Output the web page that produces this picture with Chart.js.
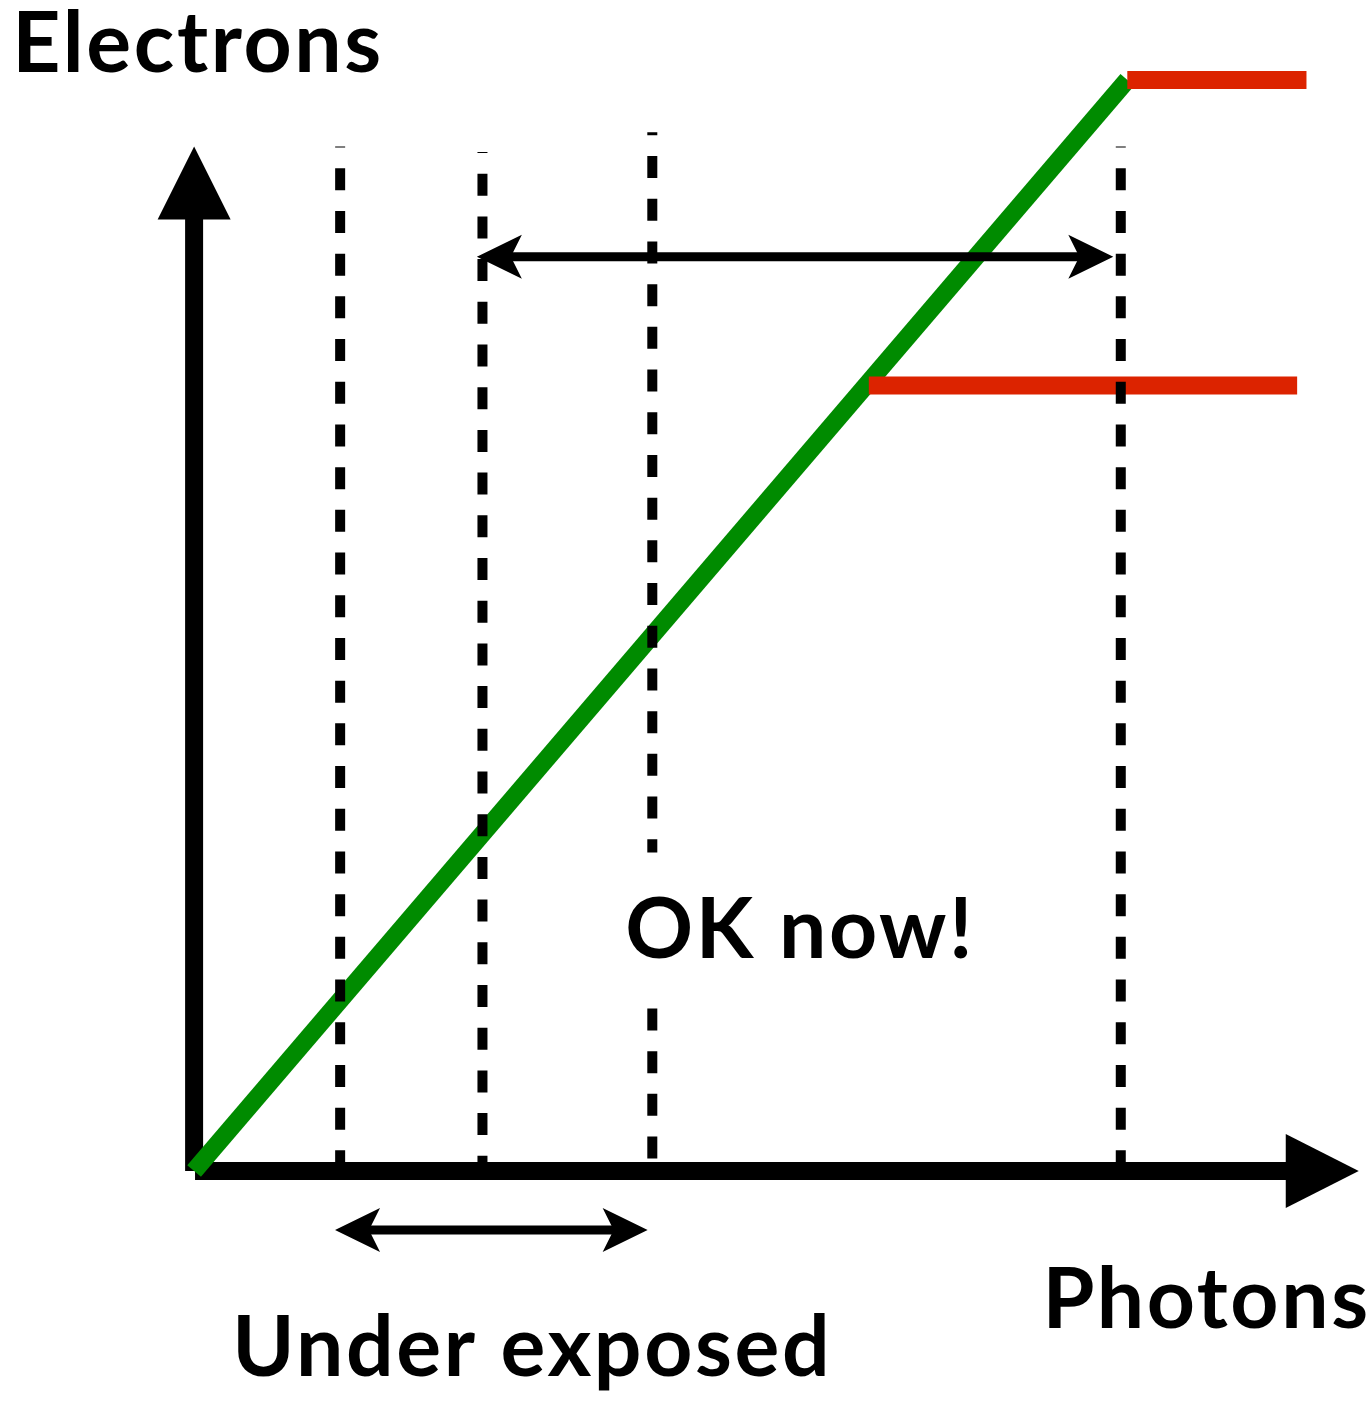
<!DOCTYPE html>
<html>
<head>
<meta charset="utf-8">
<script src="https://cdn.jsdelivr.net/npm/chart.js@4.4.0/dist/chart.umd.min.js"></script>
<style>
  html, body { margin: 0; padding: 0; background: #fff; }
  canvas { display: block; }
</style>
</head>
<body>
<canvas id="chart" width="1369" height="1402"></canvas>
<script>
// sensor response: photons in -> electrons out
const linearResponse = [{ x: 0, y: 0 }, { x: 10, y: 10 }];
const fullWell = [{ x: 10, y: 10 }, { x: 11.92, y: 10 }];
const earlyClip = [{ x: 7.23, y: 7.2 }, { x: 11.82, y: 7.2 }];

// exposure guides (photon counts), top of each guide, bottom of all
const guideX = [1.565, 3.09, 4.91, 9.93];
const guideTop = [9.39, 9.34, 9.52, 9.39];
const guideBottom = 0.05;
const guideBreak = [2.92, 1.49]; // third guide is cut for the label

// ranges marked with double arrows
const okRange = [3.03, 9.85];
const okRangeY = 8.38;
const underRange = [1.51, 4.86];
const underRangeY = -0.54;

// axes
const xAxisTip = 12.48;
const yAxisTip = 9.39;
const xView = [-2.08, 12.59];
const yView = [-2.117, 10.733];

const labels = [
  { text: 'Electrons', x: -1.95, y: 10.07 },
  { text: 'Photons', x: 9.09, y: -1.44 },
  { text: 'OK now!', x: 4.62, y: 1.95 },
  { text: 'Under exposed', x: 0.41, y: -1.88 }
];

const guideOffsets = [21, 21, 19, 21];

const line = (data, color, width, order, extra) => Object.assign({
  data: data,
  borderColor: color,
  borderWidth: width,
  borderCapStyle: 'butt',
  pointRadius: 0,
  showLine: true,
  fill: false,
  order: order
}, extra || {});

const datasets = [
  line([{ x: 0, y: 0 }, { x: 0, y: yAxisTip - 0.6 }], '#000', 18, 6),
  line([{ x: 0.01, y: 0 }, { x: xAxisTip - 0.75, y: 0 }], '#000', 18, 6),
  line(linearResponse, '#008b00', 18, 5),
  line(fullWell, '#dc2300', 18, 4),
  line(earlyClip, '#dc2300', 18, 4)
];

guideX.forEach((gx, i) => {
  const bottom = i === 2 ? guideBreak[0] : guideBottom;
  datasets.push(line([{ x: gx, y: guideTop[i] }, { x: gx, y: bottom }], '#000', 10, 3,
    { borderDash: [22, 20.7], borderDashOffset: guideOffsets[i] }));
});
datasets.push(line([{ x: guideX[2], y: guideBreak[1] }, { x: guideX[2], y: guideBottom }], '#000', 10, 3,
  { borderDash: [22, 20.7] }));

datasets.push(line([{ x: okRange[0] + 0.2, y: okRangeY }, { x: okRange[1] - 0.2, y: okRangeY }], '#000', 9, 2));
datasets.push(line([{ x: underRange[0] + 0.2, y: underRangeY }, { x: underRange[1] - 0.2, y: underRangeY }], '#000', 9, 2));

// filled arrow head, tip at (tx,ty), pointing along (dx,dy)
function head(ctx, tx, ty, dx, dy, len, half, notch) {
  const nx = -dy, ny = dx;
  const bx = tx - dx * len, by = ty - dy * len;
  ctx.beginPath();
  ctx.moveTo(tx, ty);
  ctx.lineTo(bx + nx * half, by + ny * half);
  ctx.lineTo(tx - dx * (len - notch), ty - dy * (len - notch));
  ctx.lineTo(bx - nx * half, by - ny * half);
  ctx.closePath();
  ctx.fill();
}

const arrowHeads = {
  id: 'arrowHeads',
  afterDatasetsDraw(chart) {
    const { ctx, scales } = chart;
    const px = v => scales.x.getPixelForValue(v);
    const py = v => scales.y.getPixelForValue(v);
    ctx.save();
    ctx.fillStyle = '#000';
    head(ctx, px(0), py(yAxisTip), 0, -1, 73, 36.5, 0);
    head(ctx, px(xAxisTip), py(0), 1, 0, 73, 37, 0);
    head(ctx, px(okRange[0]), py(okRangeY), -1, 0, 45, 22, 11);
    head(ctx, px(okRange[1]), py(okRangeY), 1, 0, 45, 22, 11);
    head(ctx, px(underRange[0]), py(underRangeY), -1, 0, 45, 22, 11);
    head(ctx, px(underRange[1]), py(underRangeY), 1, 0, 45, 22, 11);
    ctx.restore();
  }
};

const textLabels = {
  id: 'textLabels',
  afterDraw(chart) {
    const { ctx, scales } = chart;
    ctx.save();
    ctx.fillStyle = '#000';
    ctx.font = '700 84px Lato';
    ctx.letterSpacing = '2.6px';
    ctx.textAlign = 'left';
    ctx.textBaseline = 'alphabetic';
    labels.forEach(l => {
      ctx.fillText(l.text, scales.x.getPixelForValue(l.x), scales.y.getPixelForValue(l.y));
    });
    ctx.restore();
  }
};

new Chart(document.getElementById('chart'), {
  type: 'scatter',
  data: { datasets: datasets },
  options: {
    responsive: false,
    animation: false,
    events: [],
    layout: { padding: 0 },
    plugins: {
      legend: { display: false },
      tooltip: { enabled: false }
    },
    scales: {
      x: { type: 'linear', display: false, min: xView[0], max: xView[1] },
      y: { type: 'linear', display: false, min: yView[0], max: yView[1] }
    }
  },
  plugins: [arrowHeads, textLabels]
});
</script>
</body>
</html>
